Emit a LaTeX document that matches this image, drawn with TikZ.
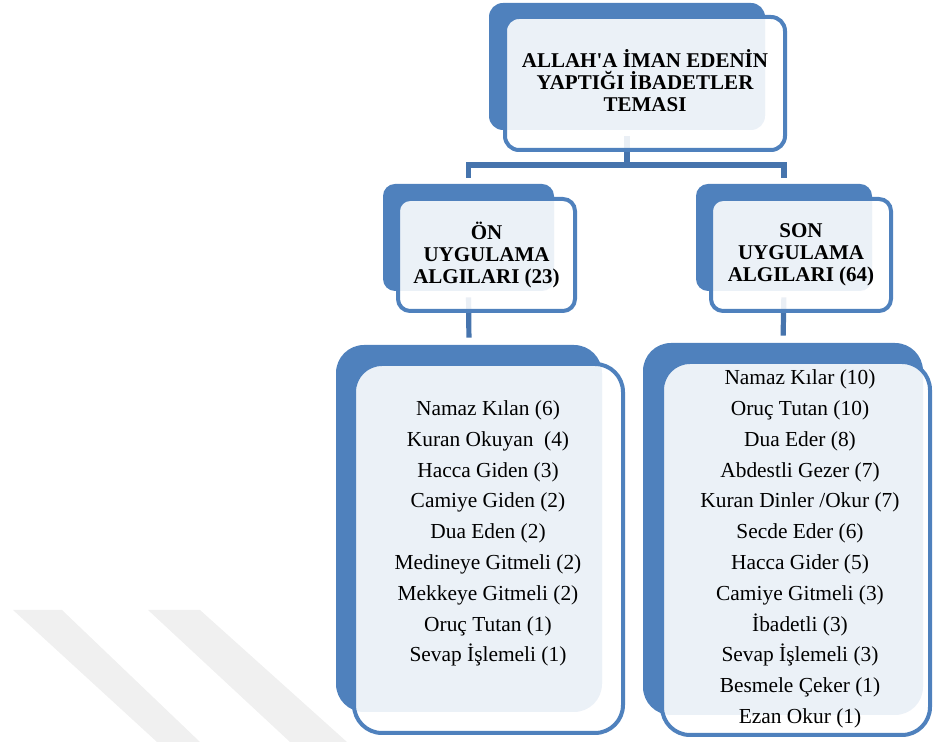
\documentclass[tikz,border=0pt]{standalone}
\usepackage{fontspec}
\setmainfont{Liberation Serif}[Ligatures=TeXOff]
\usepackage{tikz}
\usetikzlibrary{positioning}
\definecolor{boxblue}{HTML}{4F81BD}
\definecolor{linkblue}{HTML}{4674AD}
\tikzset{back/.style = {fill=boxblue, rounded corners=#1, inner sep=0pt}}
\tikzset{front/.style = {fill=white, fill opacity=0.89, text opacity=1, draw=boxblue,
                         line width=2pt, rounded corners=#1, inner sep=0pt, align=center}}
\tikzset{link/.style = {draw=linkblue, line width=2.6pt}}
\tikzset{head/.style = {font=\fontsize{10.5}{11}\selectfont\bfseries}}
\tikzset{list/.style = {align=center, inner sep=0pt, font=\fontsize{10.7}{15.4}\selectfont}}

\begin{document}
\begin{tikzpicture}[x=0.5pt, y=-0.5pt]
			\useasboundingbox (0,0) rectangle (938,742);
			% watermark
			\fill [black!6] (13,610) -- (62,610) -- (200,742) -- (157,742) -- cycle;
			\fill [black!6] (148,610) -- (200,610) -- (347,742) -- (290,742) -- cycle;
			% back boxes
			\node [back=7pt, minimum width=138pt, minimum height=63.5pt] (0) at (627, 66.5) {};
			\node [back=6pt, minimum width=85.5pt, minimum height=53.5pt] (2) at (468.5, 237.5) {};
			\node [back=6pt, minimum width=88pt, minimum height=53.5pt] (4) at (784, 237.5) {};
			\node [back=14pt, minimum width=133pt, minimum height=183.5pt] (6) at (469, 528.5) {};
			\node [back=14pt, minimum width=140pt, minimum height=186pt] (8) at (783, 529) {};
			\coordinate (10) at (627, 165);
			% connectors
			\draw [link, shorten <=3pt] (0.south) to (10);
			\draw [link, shorten <=3pt, shorten >=3pt] (2.north) |- (10) -| (4.north);
			\draw [link, shorten <=3pt, shorten >=3.5pt] (2.south) to (6.north);
			\draw [link, shorten <=3pt, shorten >=3.5pt] (4.south) to (8.north);
			% front boxes
			\node [front=7pt, minimum width=140pt, minimum height=66.5pt] (1) at (645, 83.5) {};
			\node [head, align=center] (13) at (645, 81) {ALLAH'A İMAN EDENİN\\YAPTIĞI İBADETLER\\TEMASI};
			\node [front=6pt, head, minimum width=88.5pt, minimum height=56pt] (3) at (486.5, 255)
				{ÖN\\UYGULAMA\\ALGILARI (23)};
			\node [front=6pt, head, minimum width=90pt, minimum height=56pt] (5) at (801, 255)
				{SON\\UYGULAMA\\ALGILARI (64)};
			\node [front=14pt, minimum width=134.5pt, minimum height=184.5pt] (7) at (488.5, 548.5) {};
			\node [front=14pt, minimum width=134pt, minimum height=186.5pt] (9) at (796, 548.5) {};
			% lists
			\node [list] (11) at (488, 533.5) {Namaz Kılan (6)\\Kuran Okuyan~~(4)\\Hacca Giden (3)\\
				Camiye Giden (2)\\Dua Eden (2)\\Medineye Gitmeli (2)\\Mekkeye Gitmeli (2)\\
				Oruç Tutan (1)\\Sevap İşlemeli (1)};
			\node [list] (12) at (800, 549) {Namaz Kılar (10)\\Oruç Tutan (10)\\Dua Eder (8)\\
				Abdestli Gezer (7)\\Kuran Dinler /Okur (7)\\Secde Eder (6)\\Hacca Gider (5)\\
				Camiye Gitmeli (3)\\İbadetli (3)\\Sevap İşlemeli (3)\\Besmele Çeker (1)\\Ezan Okur (1)};
		\end{tikzpicture}
\end{document}
